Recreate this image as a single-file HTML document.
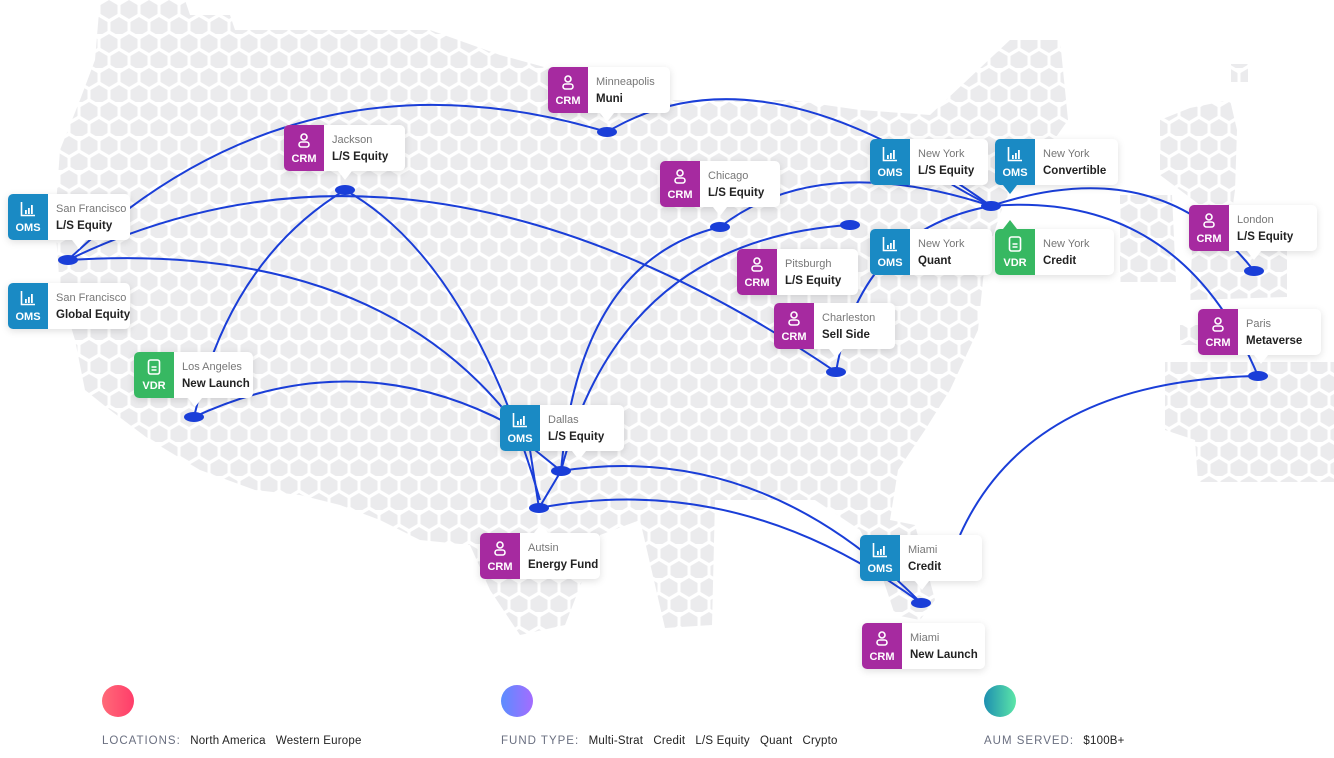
<!DOCTYPE html>
<html><head><meta charset="utf-8"><style>
body{margin:0;width:1334px;height:758px;background:#fff;position:relative;overflow:hidden;font-family:"Liberation Sans","DejaVu Sans",sans-serif}
svg.bg{position:absolute;left:0;top:0}
.card{position:absolute;height:46px;background:#fff;border-radius:5px;box-shadow:0 2px 8px rgba(0,0,0,.13);display:flex;overflow:visible}
.ic{flex:none;width:40px;height:46px;border-radius:5px 0 0 5px;color:#fff;font-weight:bold;font-size:11px;display:flex;flex-direction:column;align-items:center;justify-content:flex-end;padding-bottom:6px;box-sizing:border-box;position:relative}
.ic svg{position:absolute;top:7px;left:12px}
.oms{background:#1a8ac4}.crm{background:#a62aa0}.vdr{background:#37b862}
.tx{padding:7px 10px 0 8px;font-size:11px;color:#777;line-height:17px;white-space:nowrap}
.tx b{display:block;color:#222;font-size:11.5px}
.pt{position:absolute;width:0;height:0;border-left:7px solid transparent;border-right:7px solid transparent}
.down{border-top:9px solid #fff;top:46px}
.up{border-bottom:9px solid #fff;top:-9px}
.leg{position:absolute;top:735px;font-size:11.5px;color:#222;letter-spacing:.2px}
.leg span{color:#6a6f80;letter-spacing:1px;margin-right:6px}
.dot{position:absolute;top:685px;width:32px;height:32px;border-radius:50%}
</style></head><body>
<svg width="0" height="0" style="position:absolute">
<defs>
<symbol id="bar" viewBox="0 0 16 16"><path d="M1.5 1v13.5H15" fill="none" stroke="#fff" stroke-width="1.6"/><rect x="5" y="9" width="1.8" height="4" fill="#fff"/><rect x="8" y="7" width="1.8" height="6" fill="#fff"/><rect x="11" y="4" width="1.8" height="9" fill="#fff"/></symbol>
<symbol id="usr" viewBox="0 0 16 16"><circle cx="8" cy="5" r="3" fill="none" stroke="#fff" stroke-width="1.6"/><rect x="3" y="10" width="10" height="5" rx="2.5" fill="none" stroke="#fff" stroke-width="1.6"/></symbol>
<symbol id="doc" viewBox="0 0 16 16"><rect x="2.5" y="1" width="11" height="14" rx="2" fill="none" stroke="#fff" stroke-width="1.6"/><path d="M5.5 8h5M5.5 11h5" stroke="#fff" stroke-width="1.6"/></symbol>
</defs></svg>
<svg class="bg" width="1334" height="758">
<defs>
<pattern id="hx" width="20" height="34" patternUnits="userSpaceOnUse">
<polygon points="9,0 17.5,5 17.5,14 9,19 0.5,14 0.5,5" fill="#ebebed"/>
<polygon points="19,17 27.5,22 27.5,31 19,36 10.5,31 10.5,22" fill="#ebebed"/>
<polygon points="-1,17 7.5,22 7.5,31 -1,36 -9.5,31 -9.5,22" fill="#ebebed"/>
<polygon points="9,34 17.5,39 17.5,48 9,53 0.5,48 0.5,39" fill="#ebebed"/>
<polygon points="9,-34 17.5,-29 17.5,-20 9,-15 0.5,-20 0.5,-29" fill="#ebebed"/>
</pattern>
</defs>
<g fill="url(#hx)">
<polygon points="100,0 185,0 190,15 230,15 235,30 430,30 500,55 555,70 610,95 670,100 790,100 860,110 930,115 1010,40 1060,40 1068,120 1040,160 1005,200 985,260 978,330 950,390 925,430 898,470 890,520 915,525 935,600 920,620 895,615 880,570 860,530 815,500 715,500 712,625 665,628 640,520 600,535 565,625 520,635 490,590 470,545 420,540 380,520 340,505 300,495 255,490 200,470 150,440 110,410 85,390 75,340 60,290 55,220 60,150 80,100 95,60"/>
<polygon points="1160,120 1190,108 1230,100 1237,130 1235,190 1228,240 1250,248 1287,250 1287,297 1190,300 1192,250 1200,205 1160,175"/>
<polygon points="1120,195 1172,195 1176,282 1120,282"/>
<polygon points="1165,362 1334,362 1334,482 1198,482 1195,440 1165,430"/>
<polygon points="1180,325 1205,325 1205,345 1180,345"/>
<polygon points="1231,64 1248,64 1248,82 1231,82"/>
</g>
<g fill="none" stroke="#1a3ed8" stroke-width="2">
<path d="M68,260 Q300,40 607,132"/>
<path d="M68,260 Q420,90 836,372"/>
<path d="M68,260 Q380,240 520,430"/>
<path d="M345,190 Q230,260 194,417"/>
<path d="M345,190 Q470,260 540,500"/>
<path d="M194,417 Q360,340 520,430"/>
<path d="M607,132 Q760,40 991,206"/>
<path d="M561,471 Q580,260 720,227"/>
<path d="M561,471 Q620,240 850,225"/>
<path d="M720,227 Q820,150 991,206"/>
<path d="M836,372 Q860,230 991,206"/>
<path d="M991,206 Q1160,150 1254,271"/>
<path d="M991,206 Q1180,190 1258,376"/>
<path d="M1258,376 Q1030,380 960,535"/>
<path d="M561,471 Q760,440 921,603"/>
<path d="M539,508 Q740,470 921,603"/>
<path d="M530,450 L539,508 L561,471 L535,450"/>
<path d="M991,206 Q940,180 900,150"/>
</g>
<g fill="#1a3ed8">
<ellipse cx="607" cy="132" rx="10" ry="5"/><ellipse cx="345" cy="190" rx="10" ry="5"/>
<ellipse cx="68" cy="260" rx="10" ry="5"/><ellipse cx="194" cy="417" rx="10" ry="5"/>
<ellipse cx="720" cy="227" rx="10" ry="5"/><ellipse cx="850" cy="225" rx="10" ry="5"/>
<ellipse cx="836" cy="372" rx="10" ry="5"/><ellipse cx="991" cy="206" rx="10" ry="5"/>
<ellipse cx="1254" cy="271" rx="10" ry="5"/><ellipse cx="1258" cy="376" rx="10" ry="5"/>
<ellipse cx="561" cy="471" rx="10" ry="5"/><ellipse cx="539" cy="508" rx="10" ry="5"/>
<ellipse cx="921" cy="603" rx="10" ry="5"/>
</g>
</svg>

<div class="card" style="left:548px;top:67px;width:122px"><div class="ic crm"><svg width="16" height="16"><use href="#usr"/></svg>CRM</div><div class="tx">Minneapolis<b>Muni</b></div><div class="pt down" style="left:52px"></div></div>
<div class="card" style="left:284px;top:125px;width:121px"><div class="ic crm"><svg width="16" height="16"><use href="#usr"/></svg>CRM</div><div class="tx">Jackson<b>L/S Equity</b></div><div class="pt down" style="left:54px"></div></div>
<div class="card" style="left:8px;top:194px;width:122px"><div class="ic oms"><svg width="16" height="16"><use href="#bar"/></svg>OMS</div><div class="tx">San Francisco<b>L/S Equity</b></div><div class="pt down" style="left:64px"></div></div>
<div class="card" style="left:8px;top:283px;width:122px"><div class="ic oms"><svg width="16" height="16"><use href="#bar"/></svg>OMS</div><div class="tx">San Francisco<b>Global Equity</b></div></div>
<div class="card" style="left:134px;top:352px;width:119px"><div class="ic vdr"><svg width="16" height="16"><use href="#doc"/></svg>VDR</div><div class="tx">Los Angeles<b>New Launch</b></div><div class="pt down" style="left:54px"></div></div>
<div class="card" style="left:660px;top:161px;width:120px"><div class="ic crm"><svg width="16" height="16"><use href="#usr"/></svg>CRM</div><div class="tx">Chicago<b>L/S Equity</b></div><div class="pt down" style="left:53px"></div></div>
<div class="card" style="left:737px;top:249px;width:121px"><div class="ic crm"><svg width="16" height="16"><use href="#usr"/></svg>CRM</div><div class="tx">Pitsburgh<b>L/S Equity</b></div></div>
<div class="card" style="left:774px;top:303px;width:121px"><div class="ic crm"><svg width="16" height="16"><use href="#usr"/></svg>CRM</div><div class="tx">Charleston<b>Sell Side</b></div><div class="pt down" style="left:55px"></div></div>
<div class="card" style="left:870px;top:139px;width:118px"><div class="ic oms"><svg width="16" height="16"><use href="#bar"/></svg>OMS</div><div class="tx">New York<b>L/S Equity</b></div></div>
<div class="card" style="left:995px;top:139px;width:123px"><div class="ic oms"><svg width="16" height="16"><use href="#bar"/></svg>OMS</div><div class="tx">New York<b>Convertible</b></div><div class="pt down" style="left:8px;border-top-color:#1a8ac4"></div></div>
<div class="card" style="left:870px;top:229px;width:122px"><div class="ic oms"><svg width="16" height="16"><use href="#bar"/></svg>OMS</div><div class="tx">New York<b>Quant</b></div></div>
<div class="card" style="left:995px;top:229px;width:119px"><div class="ic vdr"><svg width="16" height="16"><use href="#doc"/></svg>VDR</div><div class="tx">New York<b>Credit</b></div><div class="pt up" style="left:8px;border-bottom-color:#37b862"></div></div>
<div class="card" style="left:1189px;top:205px;width:128px"><div class="ic crm"><svg width="16" height="16"><use href="#usr"/></svg>CRM</div><div class="tx">London<b>L/S Equity</b></div><div class="pt down" style="left:58px"></div></div>
<div class="card" style="left:1198px;top:309px;width:123px"><div class="ic crm"><svg width="16" height="16"><use href="#usr"/></svg>CRM</div><div class="tx">Paris<b>Metaverse</b></div><div class="pt down" style="left:56px"></div></div>
<div class="card" style="left:500px;top:405px;width:124px"><div class="ic oms"><svg width="16" height="16"><use href="#bar"/></svg>OMS</div><div class="tx">Dallas<b>L/S Equity</b></div><div class="pt down" style="left:72px"></div></div>
<div class="card" style="left:480px;top:533px;width:120px"><div class="ic crm"><svg width="16" height="16"><use href="#usr"/></svg>CRM</div><div class="tx">Autsin<b>Energy Fund</b></div><div class="pt up" style="left:54px"></div></div>
<div class="card" style="left:860px;top:535px;width:122px"><div class="ic oms"><svg width="16" height="16"><use href="#bar"/></svg>OMS</div><div class="tx">Miami<b>Credit</b></div><div class="pt down" style="left:55px"></div></div>
<div class="card" style="left:862px;top:623px;width:123px"><div class="ic crm"><svg width="16" height="16"><use href="#usr"/></svg>CRM</div><div class="tx">Miami<b>New Launch</b></div></div>

<div class="dot" style="left:102px;background:linear-gradient(90deg,#ff6a78,#ff3d6a)"></div>
<div class="dot" style="left:501px;background:linear-gradient(90deg,#5b8dff,#a46cff)"></div>
<div class="dot" style="left:984px;background:linear-gradient(90deg,#1d8fb0,#5ce6a8)"></div>
<div class="leg" style="left:102px"><span>LOCATIONS:</span> North America&nbsp;&nbsp; Western Europe</div>
<div class="leg" style="left:501px"><span>FUND TYPE:</span> Multi-Strat&nbsp;&nbsp; Credit&nbsp;&nbsp; L/S Equity&nbsp;&nbsp; Quant&nbsp;&nbsp; Crypto</div>
<div class="leg" style="left:984px"><span>AUM SERVED:</span> $100B+</div>
</body></html>
